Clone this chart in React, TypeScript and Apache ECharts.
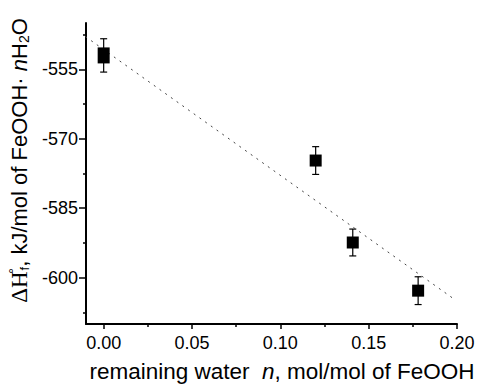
import React, { useEffect, useRef } from "react";
import * as echarts from "echarts";

const nValues = [0.0, 0.12, 0.141, 0.178];
const dhValues = [-552.0, -574.7, -592.4, -602.8];
const errValues = [3.6, 3.0, 2.9, 3.0];
const fitX = [-0.02, 0.199];
const fitY = [-545.3, -604.8];
const xTicks = [0, 0.05, 0.1, 0.15, 0.2];
const xMinorTicks = [0.025, 0.075, 0.125, 0.175];
const yTicks = [-600, -585, -570, -555];
const yMinorTicks = [-607.5, -592.5, -577.5, -562.5, -547.5];

const FONT = "'Liberation Sans', Arial, sans-serif";

export default function App() {
  const ref = useRef<HTMLDivElement>(null);
  useEffect(() => {
    if (!ref.current) return;
    const chart = echarts.init(ref.current, undefined, { renderer: "svg" });
    const xMin = -0.01, xMax = 0.2, yMin = -610, yMax = -545;
    const axisText = { color: "#000", fontFamily: FONT, fontSize: 18 };
    chart.setOption({
      animation: false,
      backgroundColor: "#fff",
      grid: { left: 86, right: 21, top: 23, bottom: 61, outerBoundsMode: "none", containLabel: false },
      xAxis: [
        {
          type: "value", min: xMin, max: xMax, position: "bottom",
          axisLine: { show: true, onZero: false, lineStyle: { color: "#000", width: 2 } },
          axisTick: { show: true, customValues: xTicks, length: 5, lineStyle: { color: "#000", width: 1.5 } },
          axisLabel: { customValues: xTicks, formatter: (v: number) => v.toFixed(2), margin: 10, ...axisText },
          splitLine: { show: false },
          name: "{t|remaining water  }{i|n}{t|, mol/mol of FeOOH}",
          nameLocation: "middle", nameGap: 36,
          nameTextStyle: {
            padding: [0, 0, 0, 21],
            rich: {
              t: { fontFamily: FONT, fontSize: 22.5, color: "#000" },
              i: { fontFamily: FONT, fontSize: 22.5, color: "#000", fontStyle: "italic" },
            },
          },
        },
        {
          type: "value", min: xMin, max: xMax, position: "bottom",
          axisLine: { show: false, onZero: false },
          axisTick: { show: true, customValues: xMinorTicks, length: 3, lineStyle: { color: "#000", width: 1.5 } },
          axisLabel: { show: false },
          splitLine: { show: false },
        },
      ],
      yAxis: [
        {
          type: "value", min: yMin, max: yMax, position: "left",
          axisLine: { show: true, onZero: false, lineStyle: { color: "#000", width: 2 } },
          axisTick: { show: true, customValues: yTicks, length: 7, lineStyle: { color: "#000", width: 1.5 } },
          axisLabel: { customValues: yTicks, margin: 8, ...axisText },
          splitLine: { show: false },
          name: "{s|ΔH}{sup|°}{sub|f}{t|, kJ/mol of FeOOH· }{i|n}{t|H}{sub2|2}{t|O}",
          nameLocation: "middle", nameRotate: 90, nameGap: 49,
          nameTextStyle: {
            padding: [0, 0, 0, 26],
            rich: {
              s: { fontFamily: "'Liberation Serif', serif", fontSize: 23, color: "#000", lineHeight: 24 },
              t: { fontFamily: FONT, fontSize: 22, color: "#000", lineHeight: 24 },
              i: { fontFamily: FONT, fontSize: 22, color: "#000", fontStyle: "italic", lineHeight: 24 },
              sup: { fontFamily: FONT, fontSize: 14, color: "#000", verticalAlign: "top", width: 1 },
              sub: { fontFamily: FONT, fontSize: 13, color: "#000", verticalAlign: "bottom" },
              sub2: { fontFamily: FONT, fontSize: 14, color: "#000", verticalAlign: "bottom" },
            },
          },
        },
        {
          type: "value", min: yMin, max: yMax, position: "left",
          axisLine: { show: false, onZero: false },
          axisTick: { show: true, customValues: yMinorTicks, length: 3, lineStyle: { color: "#000", width: 1.5 } },
          axisLabel: { show: false },
          splitLine: { show: false },
        },
      ],
      series: [
        {
          type: "line",
          data: fitX.map((x, i) => [x, fitY[i]]),
          showSymbol: false,
          symbol: "none",
          clip: false,
          lineStyle: { color: "#444", width: 1, type: [2, 5] },
          silent: true,
        },
        {
          type: "custom",
          data: nValues.map((x, i) => [x, dhValues[i] - errValues[i], dhValues[i] + errValues[i]]),
          renderItem: (params: any, api: any) => {
            const x = api.value(0);
            const lo = api.coord([x, api.value(1)]);
            const hi = api.coord([x, api.value(2)]);
            const w = 3.5;
            const style = { stroke: "#000", lineWidth: 1.2 };
            return {
              type: "group",
              children: [
                { type: "line", shape: { x1: lo[0], y1: lo[1], x2: hi[0], y2: hi[1] }, style },
                { type: "line", shape: { x1: lo[0] - w, y1: lo[1], x2: lo[0] + w, y2: lo[1] }, style },
                { type: "line", shape: { x1: hi[0] - w, y1: hi[1], x2: hi[0] + w, y2: hi[1] }, style },
              ],
            };
          },
          z: 3,
        },
        {
          type: "scatter",
          data: nValues.map((x, i) => (i === 0 ? { value: [x, dhValues[i]], symbolSize: [12, 16] } : [x, dhValues[i]])),
          symbol: "rect",
          symbolSize: 12,
          itemStyle: { color: "#000", opacity: 1 },
          z: 4,
        },
      ],
    });
    return () => chart.dispose();
  }, []);
  return <div ref={ref} style={{ width: 478, height: 385, position: "absolute", left: 0, top: 0 }} />;
}
